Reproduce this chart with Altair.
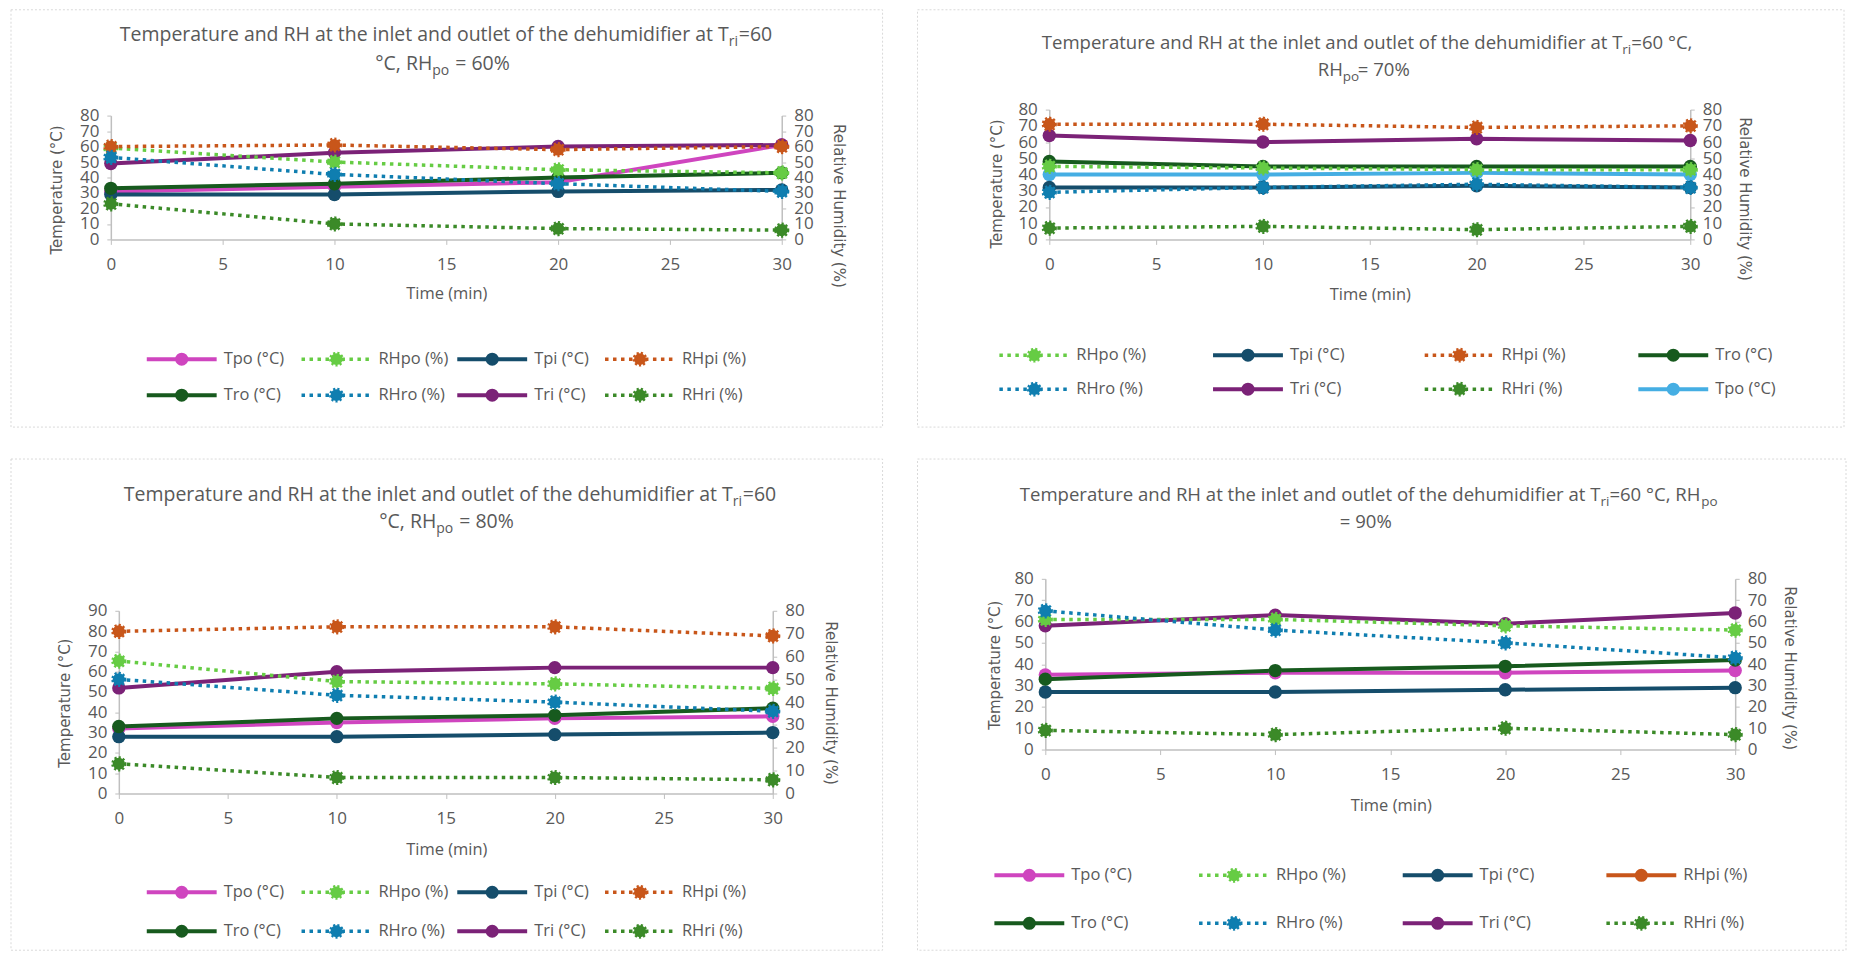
import altair as alt
import pandas as pd

# ---------------- data ----------------
TIME = [0, 10, 20, 30]

# Panel 1: Tri = 60 °C, RHpo = 60 %
P1_TPO = [31, 34, 37, 61]
P1_RHPO = [59, 50, 45, 43]
P1_TPI = [29, 29, 31, 32]
P1_RHPI = [60, 61, 58, 60]
P1_TRO = [33, 36, 40, 43]
P1_RHRO = [53, 42, 36, 31]
P1_TRI = [49, 56, 60, 61]
P1_RHRI = [23, 10, 7, 6]

# Panel 2: RHpo = 70 %
P2_TPO = [40, 40, 41, 40]
P2_RHPO = [45, 44, 43, 43]
P2_TPI = [32, 32, 33, 32]
P2_RHPI = [71, 71, 69, 70]
P2_TRO = [48, 45, 45, 45]
P2_RHRO = [29, 32, 34, 32]
P2_TRI = [64, 60, 62, 61]
P2_RHRI = [7, 8, 6, 8]

# Panel 3: RHpo = 80 %  (temperature axis 0-90, RH axis 0-80)
P3_TPO = [32, 35, 37, 38]
P3_RHPO = [58, 49, 48, 46]
P3_TPI = [28, 28, 29, 30]
P3_RHPI = [71, 73, 73, 69]
P3_TRO = [33, 37, 38.5, 42]
P3_RHRO = [50, 43, 40, 36]
P3_TRI = [52, 60, 62, 62]
P3_RHRI = [13, 7, 7, 6]

# Panel 4: RHpo = 90 %  (RHpi not visible in the plot area)
P4_TPO = [35, 36, 36, 37]
P4_RHPO = [61, 61, 58, 56]
P4_TPI = [27, 27, 28, 29]
P4_RHPI = [None, None, None, None]
P4_TRO = [33, 37, 39, 42]
P4_RHRO = [65, 56, 50, 43]
P4_TRI = [58, 63, 59, 64]
P4_RHRI = [9, 7, 10, 7]

SERIES = ["Tpo", "RHpo", "Tpi", "RHpi", "Tro", "RHro", "Tri", "RHri"]
LABELS = {"Tpo": "Tpo (°C)", "RHpo": "RHpo (%)", "Tpi": "Tpi (°C)", "RHpi": "RHpi (%)",
          "Tro": "Tro (°C)", "RHro": "RHro (%)", "Tri": "Tri (°C)", "RHri": "RHri (%)"}
COLORS = {"Tpo": "#cf45bf", "RHpo": "#66cc44", "Tpi": "#154d6b", "RHpi": "#c8561a",
          "Tro": "#175a1e", "RHro": "#0f7eb0", "Tri": "#7b2277", "RHri": "#3b8a28"}
COLORS_P2 = dict(COLORS, Tpo="#45aee3")

TITLE_A = "Temperature and RH at the inlet and outlet of the dehumidifier at T"

FONT = "Open Sans"
AXFONT = "DejaVu Sans"
GRAY = "#595959"
LINEGRAY = "#bfbfbf"
DOT = [3.5, 4.5]
TS = 19.5   # title font size (left panels)
TS2 = 18.6  # title font size (right panels)
SS = 14     # subscript font size
SS2 = 13.5


def x_axis(cfg):
    return alt.Axis(values=[0, 5, 10, 15, 20, 25, 30], title="Time (min)", grid=False,
                    domainColor=LINEGRAY, domainWidth=1.5, tickColor=LINEGRAY, tickSize=5,
                    labelPadding=20, labelBaseline="middle", labelFont=FONT, labelFontSize=17,
                    labelColor=GRAY, labelFlush=False, titleFont=FONT, titleFontSize=16.5,
                    titleFontWeight="normal", titleColor=GRAY, titleX=cfg["xtx"],
                    titleY=cfg["xt"], titleBaseline="middle")


def y_axis(cfg, orient, title, maxv, tx, ty, offset=0):
    return alt.Axis(orient=orient, values=list(range(0, maxv + 1, 10)), title=title, grid=False,
                    domainColor=LINEGRAY, domainWidth=1.5, tickColor=LINEGRAY, tickSize=4,
                    labelPadding=8, labelFont=FONT, labelFontSize=17, labelColor=GRAY,
                    labelFlush=False, labelOverlap=False, titleFont=AXFONT, titleFontSize=15,
                    titleFontWeight="normal", titleColor=GRAY, titleX=tx, titleY=ty,
                    titleBaseline="middle", offset=offset)


def panel(cfg):
    W, H = cfg["W"], cfg["H"]
    colors = cfg["colors"]
    xr = cfg.get("xr", [0, W])
    yr = cfg.get("yr", [H, 0])
    rows_t, rows_rh = [], []
    for name in SERIES:
        for t, v in zip(TIME, cfg["values"][name]):
            if v is None:
                continue
            row = {"time": t, "value": v, "series": name, "color": colors[name]}
            (rows_rh if name.startswith("RH") else rows_t).append(row)
    df_t = pd.DataFrame(rows_t)
    df_rh = pd.DataFrame(rows_rh)

    xenc = alt.X("time:Q", scale=alt.Scale(domain=[0, 30], nice=False, zero=False, range=xr),
                 axis=x_axis(cfg))

    t_base = alt.Chart(df_t).encode(
        x=xenc,
        y=alt.Y("value:Q", scale=alt.Scale(domain=[0, cfg["tmax"]], nice=False, range=yr),
                axis=y_axis(cfg, "left", "Temperature (°C)", cfg["tmax"], *cfg["lt"],
                            offset=cfg.get("loff", 0))),
        color=alt.Color("color:N", scale=None),
        detail="series:N",
    )
    t_group = alt.layer(
        t_base.mark_line(strokeWidth=4),
        t_base.mark_point(filled=True, size=180, opacity=1, shape="circle"),
    )

    rh_base = alt.Chart(df_rh).encode(
        x=xenc,
        y=alt.Y("value:Q", scale=alt.Scale(domain=[0, 80], nice=False, range=yr),
                axis=y_axis(cfg, "right", "Relative Humidity (%)", 80, *cfg["rt"])),
        color=alt.Color("color:N", scale=None),
        detail="series:N",
    )
    rh_group = alt.layer(
        rh_base.mark_line(strokeWidth=3.5, strokeDash=DOT),
        rh_base.mark_point(filled=True, size=150, opacity=1, shape="circle", strokeWidth=3,
                           strokeDash=[2, 2]).encode(stroke=alt.Stroke("color:N", scale=None)),
    )

    # panel border (dotted light frame)
    bl, bt, br, bb = cfg["border"]
    border = alt.Chart(pd.DataFrame({"k": [0]})).mark_rect(
        fillOpacity=0, stroke="#d9d9d9", strokeWidth=1, strokeDash=[2, 2]
    ).encode(x=alt.value(bl), x2=alt.value(br), y=alt.value(bt), y2=alt.value(bb))

    # titles with subscripts
    tdf = pd.DataFrame(cfg["title"], columns=["px", "py", "text", "size", "align"])
    title_layers = []
    for al in ["left", "right", "center"]:
        sub = tdf[tdf["align"] == al]
        if len(sub) == 0:
            continue
        title_layers.append(
            alt.Chart(sub).mark_text(align=al, baseline="middle", font=FONT, color=GRAY).encode(
                x=alt.X("px:Q", scale=None), y=alt.Y("py:Q", scale=None), text="text:N",
                size=alt.Size("size:Q", scale=None))
        )

    # legend (4 columns x 2 rows)
    lrows = []
    for i, name in enumerate(cfg["legend_order"]):
        c, r = i % 4, i // 4
        x0 = cfg["legend_x"][c]
        y0 = cfg["legend_y"][r]
        dotted = name.startswith("RH") and name not in cfg.get("solid_rh", [])
        lrows.append({"x0": x0, "x1": x0 + 70, "xm": x0 + 35, "xt": x0 + 77, "y": y0,
                      "label": LABELS[name], "color": colors[name], "dotted": int(dotted)})
    ldf = pd.DataFrame(lrows)
    lbase = alt.Chart(ldf)
    lx = alt.X("x0:Q", scale=None)
    ly = alt.Y("y:Q", scale=None)
    col = alt.Color("color:N", scale=None)
    legend_layers = [
        lbase.transform_filter("datum.dotted == 0").mark_rule(strokeWidth=4).encode(
            x=lx, x2="x1:Q", y=ly, color=col),
        lbase.transform_filter("datum.dotted == 1").mark_rule(strokeWidth=3.5, strokeDash=DOT).encode(
            x=lx, x2="x1:Q", y=ly, color=col),
        lbase.transform_filter("datum.dotted == 0").mark_point(
            filled=True, size=170, opacity=1, shape="circle").encode(
            x=alt.X("xm:Q", scale=None), y=ly, color=col),
        lbase.transform_filter("datum.dotted == 1").mark_point(
            filled=True, size=140, opacity=1, shape="circle", strokeWidth=3, strokeDash=[2, 2]).encode(
            x=alt.X("xm:Q", scale=None), y=ly, color=col, stroke=alt.Stroke("color:N", scale=None)),
        lbase.mark_text(align="left", baseline="middle", font=FONT, fontSize=16.5, color=GRAY).encode(
            x=alt.X("xt:Q", scale=None), y=ly, text="label:N"),
    ]

    return alt.layer(t_group, rh_group, border, *title_layers, *legend_layers).resolve_scale(
        y="independent").properties(width=W, height=H)


def vals(*arrs):
    return dict(zip(SERIES, arrs))


# Panel 1: view origin shares x with panel 3, so its x range starts 8 px left of the view
P1 = dict(
    W=664, H=124, tmax=80, colors=COLORS, xr=[-8, 664], loff=8,
    values=vals(P1_TPO, P1_RHPO, P1_TPI, P1_RHPI, P1_TRO, P1_RHRO, P1_TRI, P1_RHRI),
    border=(-108, -106, 765, 312), xt=54, xtx=328, lt=(-54, 74), rt=(57, 90),
    title=[(611, -81, TITLE_A, TS, "right"), (611, -74, "ri", SS, "left"), (621, -81, "=60", TS, "left"),
           (314, -52, "°C, RH", TS, "right"), (314, -45, "po", SS, "left"), (337, -52, "= 60%", TS, "left")],
    legend_order=SERIES, legend_x=[28, 183, 339, 487], legend_y=[244, 280],
)
# Panel 2: view origin shares y with panel 1, so its y range reaches 6 px above the view
P2 = dict(
    W=642, H=124, tmax=80, colors=COLORS_P2, yr=[124, -6],
    values=vals(P2_TPO, P2_RHPO, P2_TPI, P2_RHPI, P2_TRO, P2_RHRO, P2_TRI, P2_RHRI),
    border=(-132, -106, 796, 312), xt=55, xtx=321, lt=(-53, 68), rt=(54, 83),
    title=[(574, -73, TITLE_A, TS2, "right"), (574, -66, "ri", SS2, "left"), (583, -73, "=60 °C,", TS2, "left"),
           (294, -46, "RH", TS2, "right"), (294, -39, "po", SS2, "left"), (309, -46, "= 70%", TS2, "left")],
    legend_order=["RHpo", "Tpi", "RHpi", "Tro", "RHro", "Tri", "RHri", "Tpo"],
    legend_x=[-50, 164, 376, 590], legend_y=[240, 274],
)
P3 = dict(
    W=655, H=183, tmax=90, colors=COLORS,
    values=vals(P3_TPO, P3_RHPO, P3_TPI, P3_RHPI, P3_TRO, P3_RHRO, P3_TRI, P3_RHRI),
    border=(-108, -152, 765, 340), xt=56, xtx=328, lt=(-54, 92), rt=(58, 92),
    title=[(615, -116, TITLE_A, TS, "right"), (615, -109, "ri", SS, "left"), (625, -116, "=60", TS, "left"),
           (318, -89, "°C, RH", TS, "right"), (318, -82, "po", SS, "left"), (341, -89, "= 80%", TS, "left")],
    legend_order=SERIES, legend_x=[28, 183, 339, 487], legend_y=[282, 321],
)
P4 = dict(
    W=691, H=171, tmax=80, colors=COLORS,
    values=vals(P4_TPO, P4_RHPO, P4_TPI, P4_RHPI, P4_TRO, P4_RHRO, P4_TRI, P4_RHRI),
    border=(-128, -120, 802, 372), xt=56, xtx=346, lt=(-51, 86), rt=(54, 89),
    title=[(556, -84, TITLE_A, TS2, "right"), (556, -77, "ri", SS2, "left"), (565, -84, "=60 °C, RH", TS2, "left"),
           (657, -77, "po", SS2, "left"), (321, -57, "= 90%", TS2, "center")],
    legend_order=SERIES, solid_rh=["RHpi"], legend_x=[-51, 154, 358, 562], legend_y=[297, 345],
)

chart = alt.concat(panel(P1), panel(P2), panel(P3), panel(P4), columns=2, align="none",
                   spacing={"row": 30, "column": 33}).properties(
    padding={"left": 2, "top": 0, "right": 0, "bottom": 0}, background="white"
).configure_view(strokeWidth=0)

chart.save("out.html", embed_options={"renderer": "svg", "actions": False})
